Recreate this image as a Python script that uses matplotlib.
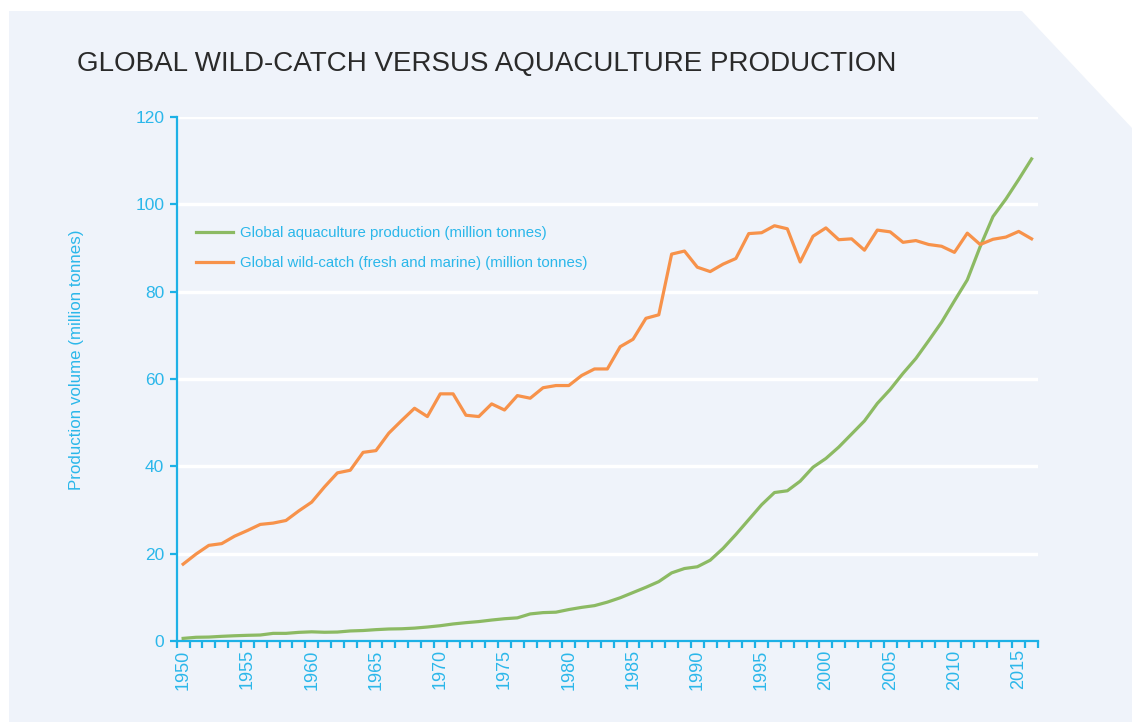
import matplotlib
matplotlib.use("Agg")
import matplotlib.pyplot as plt
from matplotlib.patches import Polygon
import numpy as np

years = list(range(1950, 2017))

aquaculture = [0.6, 0.85, 0.9, 1.07, 1.2, 1.3, 1.37, 1.75, 1.75, 1.98,
               2.1, 2.0, 2.05, 2.3, 2.4, 2.6, 2.75, 2.8, 2.95, 3.2,
               3.5, 3.9, 4.2, 4.45, 4.8, 5.1, 5.3, 6.2, 6.5, 6.6,
               7.2, 7.7, 8.1, 8.9, 9.9, 11.1, 12.3, 13.6, 15.6, 16.6,
               17.0, 18.5, 21.2, 24.4, 27.8, 31.2, 34.0, 34.4, 36.6, 39.8,
               41.8, 44.4, 47.4, 50.4, 54.4, 57.6, 61.3, 64.7, 68.8, 73.0,
               77.9, 82.7, 90.3, 97.2, 101.2, 105.7, 110.4]

wild_catch = [17.6, 19.9, 21.9, 22.3, 24.0, 25.3, 26.7, 27.0, 27.6, 29.8,
              31.8, 35.3, 38.5, 39.1, 43.2, 43.6, 47.6, 50.5, 53.3, 51.4,
              56.6, 56.6, 51.7, 51.4, 54.3, 52.9, 56.2, 55.6, 58.0, 58.5,
              58.5, 60.8, 62.3, 62.3, 67.4, 69.1, 73.9, 74.7, 88.6, 89.3,
              85.6, 84.6, 86.3, 87.6, 93.3, 93.5, 95.1, 94.4, 86.8, 92.7,
              94.6, 91.9, 92.1, 89.5, 94.1, 93.7, 91.3, 91.7, 90.8, 90.4,
              89.0, 93.4, 90.8, 92.0, 92.5, 93.8, 92.1]

title = "GLOBAL WILD-CATCH VERSUS AQUACULTURE PRODUCTION"
ylabel = "Production volume (million tonnes)"
label_aqua = "Global aquaculture production (million tonnes)"
label_wild = "Global wild-catch (fresh and marine) (million tonnes)"
yticks = [0, 20, 40, 60, 80, 100, 120]
xtick_labels = list(range(1950, 2016, 5))

W, H = 1132, 722
BLUE = "#1db1e6"
TXT_BLUE = "#2bb7ea"
GREEN = "#8cba63"
ORANGE = "#f7924a"
PANEL = "#eff3fa"

plt.rcParams['font.family'] = ['Liberation Sans', 'DejaVu Sans']

fig = plt.figure(figsize=(W / 100, H / 100), dpi=100)
fig.patch.set_facecolor("white")

def fp(x, y):
    return (x / W, 1 - y / H)

panel = Polygon([fp(9, 11), fp(1022, 11), fp(1132, 128), fp(1132, 722), fp(9, 722)],
                closed=True, transform=fig.transFigure, facecolor=PANEL,
                edgecolor="none", zorder=-5)
fig.patches.append(panel)

fig.text(77 / W, 1 - 64 / H, title, fontsize=20, color="#2a2a2a",
         va="center", ha="left")

ax = fig.add_axes([176.7 / W, 81 / H, (1038 - 176.7) / W, (641 - 117) / H])
ax.set_facecolor("none")
ax.set_zorder(1)

for v in yticks[1:]:
    ax.axhline(v, color="white", lw=2.5, zorder=1)

ax.plot(years, aquaculture, color=GREEN, lw=2.3, label=label_aqua, zorder=3)
ax.plot(years, wild_catch, color=ORANGE, lw=2.3, label=label_wild, zorder=3)

ax.set_xlim(1949.5, 2016.5)
ax.set_ylim(0, 120)

for s in ["top", "right"]:
    ax.spines[s].set_visible(False)
for s in ["left", "bottom"]:
    ax.spines[s].set_color(BLUE)
    ax.spines[s].set_linewidth(1.6)

ax.set_yticks(yticks)
ax.set_yticklabels([str(v) for v in yticks])
ax.tick_params(axis="y", colors=BLUE, labelcolor=TXT_BLUE, labelsize=12.5,
               length=5, width=1.6, pad=4)

ax.set_xticks(np.arange(1949.5, 2017.0, 1.0))
ax.set_xticklabels([])
ax.tick_params(axis="x", which="major", colors=BLUE, length=5, width=1.6)
ax.set_xticks(xtick_labels, minor=True)
ax.set_xticklabels([str(y) for y in xtick_labels], minor=True, rotation=90)
ax.tick_params(axis="x", which="minor", length=0, labelcolor=TXT_BLUE,
               labelsize=13, pad=6)

fig.text(77 / W, 1 - 360 / H, ylabel, rotation=90, fontsize=12.2,
         color=TXT_BLUE, va="center", ha="center")

leg = ax.legend(loc="upper left", bbox_to_anchor=(196 / W, 1 - 226 / H),
                bbox_transform=fig.transFigure, frameon=False, fontsize=10.8,
                handlelength=2.45, handletextpad=0.5, labelspacing=1.05,
                labelcolor=TXT_BLUE, borderpad=0, borderaxespad=0)

fig.savefig("out.png", dpi=100, facecolor=fig.get_facecolor())
